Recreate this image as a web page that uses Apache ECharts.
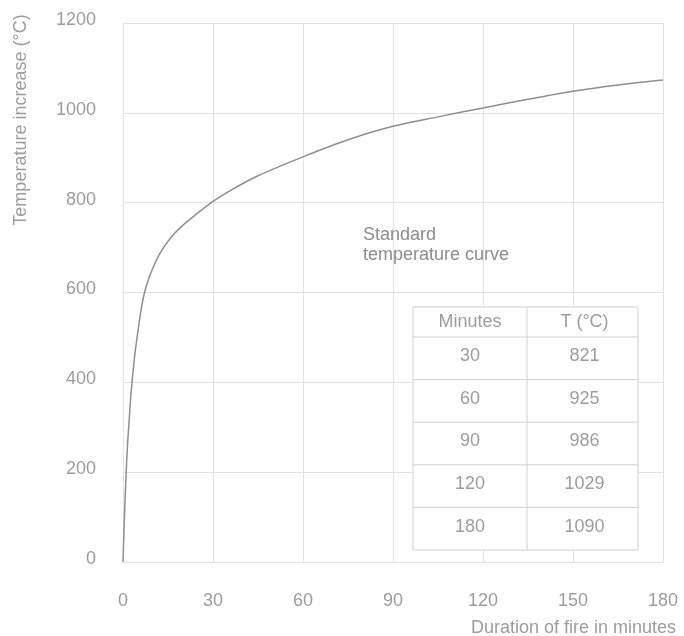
<!DOCTYPE html>
<html>
<head>
<meta charset="utf-8">
<script src="https://cdn.jsdelivr.net/npm/echarts@6/dist/echarts.min.js"></script>
<style>
html,body{margin:0;padding:0;background:#fff;}
#chart{width:684px;height:636px;}
</style>
</head>
<body>
<div id="chart"></div>
<script>
// Data
const minutes = [0, 0.5, 1, 1.5, 2, 2.5, 3, 4, 5, 6, 7, 8.5, 10, 12, 14, 17, 20, 24, 30, 36, 45, 60, 75, 90, 105, 120, 135, 150, 165, 180];
const tempIncrease = [0, 105, 190, 260, 310, 360, 400, 465, 515, 560, 595, 630, 655, 683, 705, 730, 750, 772, 803, 828, 860, 902, 940, 970, 991, 1011, 1030, 1048, 1062, 1073];
const xTicks = [0, 30, 60, 90, 120, 150, 180];
const yTicks = [0, 200, 400, 600, 800, 1000, 1200];
const tableHeader = ['Minutes', 'T (°C)'];
const tableMinutes = [30, 60, 90, 120, 180];
const tableTemps = [821, 925, 986, 1029, 1090];
const curveLabel = 'Standard\ntemperature curve';
const xName = 'Duration of fire in minutes';
const yName = 'Temperature increase (°C)';

const FONT = '"Liberation Sans", Arial, sans-serif';
const TXT = '#9c9c9c';
const GRID = '#e2e2e2';

const chart = echarts.init(document.getElementById('chart'), null, {renderer: 'canvas'});

// table graphic
const tLeft = 413, tMid = 527, tRight = 638, tTop = 307, headH = 30, rowH = 42.6;
const tBottom = tTop + headH + rowH * tableMinutes.length;
const tableEls = [];
tableEls.push({type: 'rect', shape: {x: tLeft, y: tTop, width: tRight - tLeft, height: tBottom - tTop},
  style: {fill: '#fff', stroke: '#d0d0d0', lineWidth: 1}, z: 10});
tableEls.push({type: 'line', shape: {x1: tMid, y1: tTop, x2: tMid, y2: tBottom}, style: {stroke: '#d0d0d0', lineWidth: 1}, z: 11});
for (let i = 0; i < tableMinutes.length; i++) {
  const y = tTop + headH + rowH * i;
  tableEls.push({type: 'line', shape: {x1: tLeft, y1: y, x2: tRight, y2: y}, style: {stroke: '#d0d0d0', lineWidth: 1}, z: 11});
}
const cellText = (txt, cx, cy) => ({type: 'text', x: cx, y: cy, z: 12,
  style: {text: String(txt), fill: TXT, font: '18px ' + FONT, textAlign: 'center', textVerticalAlign: 'middle'}});
tableEls.push(cellText(tableHeader[0], (tLeft + tMid) / 2, tTop + headH / 2));
tableEls.push(cellText(tableHeader[1], (tMid + tRight) / 2 + 2, tTop + headH / 2));
for (let i = 0; i < tableMinutes.length; i++) {
  const cy = tTop + headH + rowH * i + rowH / 2 - 2;
  tableEls.push(cellText(tableMinutes[i], (tLeft + tMid) / 2, cy));
  tableEls.push(cellText(tableTemps[i], (tMid + tRight) / 2 + 2, cy));
}

const option = {
  backgroundColor: '#fff',
  animation: false,
  grid: {left: 123, right: 21, top: 23, bottom: 74, containLabel: false},
  xAxis: {
    type: 'value', min: xTicks[0], max: xTicks[xTicks.length - 1], interval: xTicks[1] - xTicks[0],
    axisLine: {show: true, lineStyle: {color: GRID}},
    axisTick: {show: false},
    splitLine: {show: true, lineStyle: {color: GRID, width: 1}},
    axisLabel: {color: TXT, fontSize: 18, fontFamily: FONT, margin: 30, formatter: v => String(v)}
  },
  yAxis: {
    type: 'value', min: yTicks[0], max: yTicks[yTicks.length - 1], interval: yTicks[1] - yTicks[0],
    axisLine: {show: true, lineStyle: {color: GRID}},
    axisTick: {show: false},
    splitLine: {show: true, lineStyle: {color: GRID, width: 1}},
    axisLabel: {color: TXT, fontSize: 18, fontFamily: FONT, margin: 27, formatter: v => String(v),
      verticalAlign: 'bottom', lineHeight: 18, padding: [0, 0, -6, 0]}
  },
  series: [{
    type: 'line',
    data: minutes.map((m, i) => [m, tempIncrease[i]]),
    showSymbol: false,
    smooth: 0.3,
    lineStyle: {color: '#8e8e8e', width: 1.5},
    z: 5
  }],
  graphic: [
    {type: 'text', x: 363, y: 225, z: 12,
     style: {text: curveLabel, fill: '#8c8c8c', font: '18px ' + FONT, lineHeight: 20, textAlign: 'left', textVerticalAlign: 'top'}},
    {type: 'text', x: 676, y: 628, z: 12,
     style: {text: xName, fill: TXT, font: '18px ' + FONT, textAlign: 'right', textVerticalAlign: 'middle'}},
    {type: 'text', x: 21, y: 120, rotation: Math.PI / 2, z: 12,
     style: {text: yName, fill: TXT, font: '18px ' + FONT, textAlign: 'center', textVerticalAlign: 'middle'}}
  ].concat(tableEls)
};
chart.setOption(option);
</script>
</body>
</html>
